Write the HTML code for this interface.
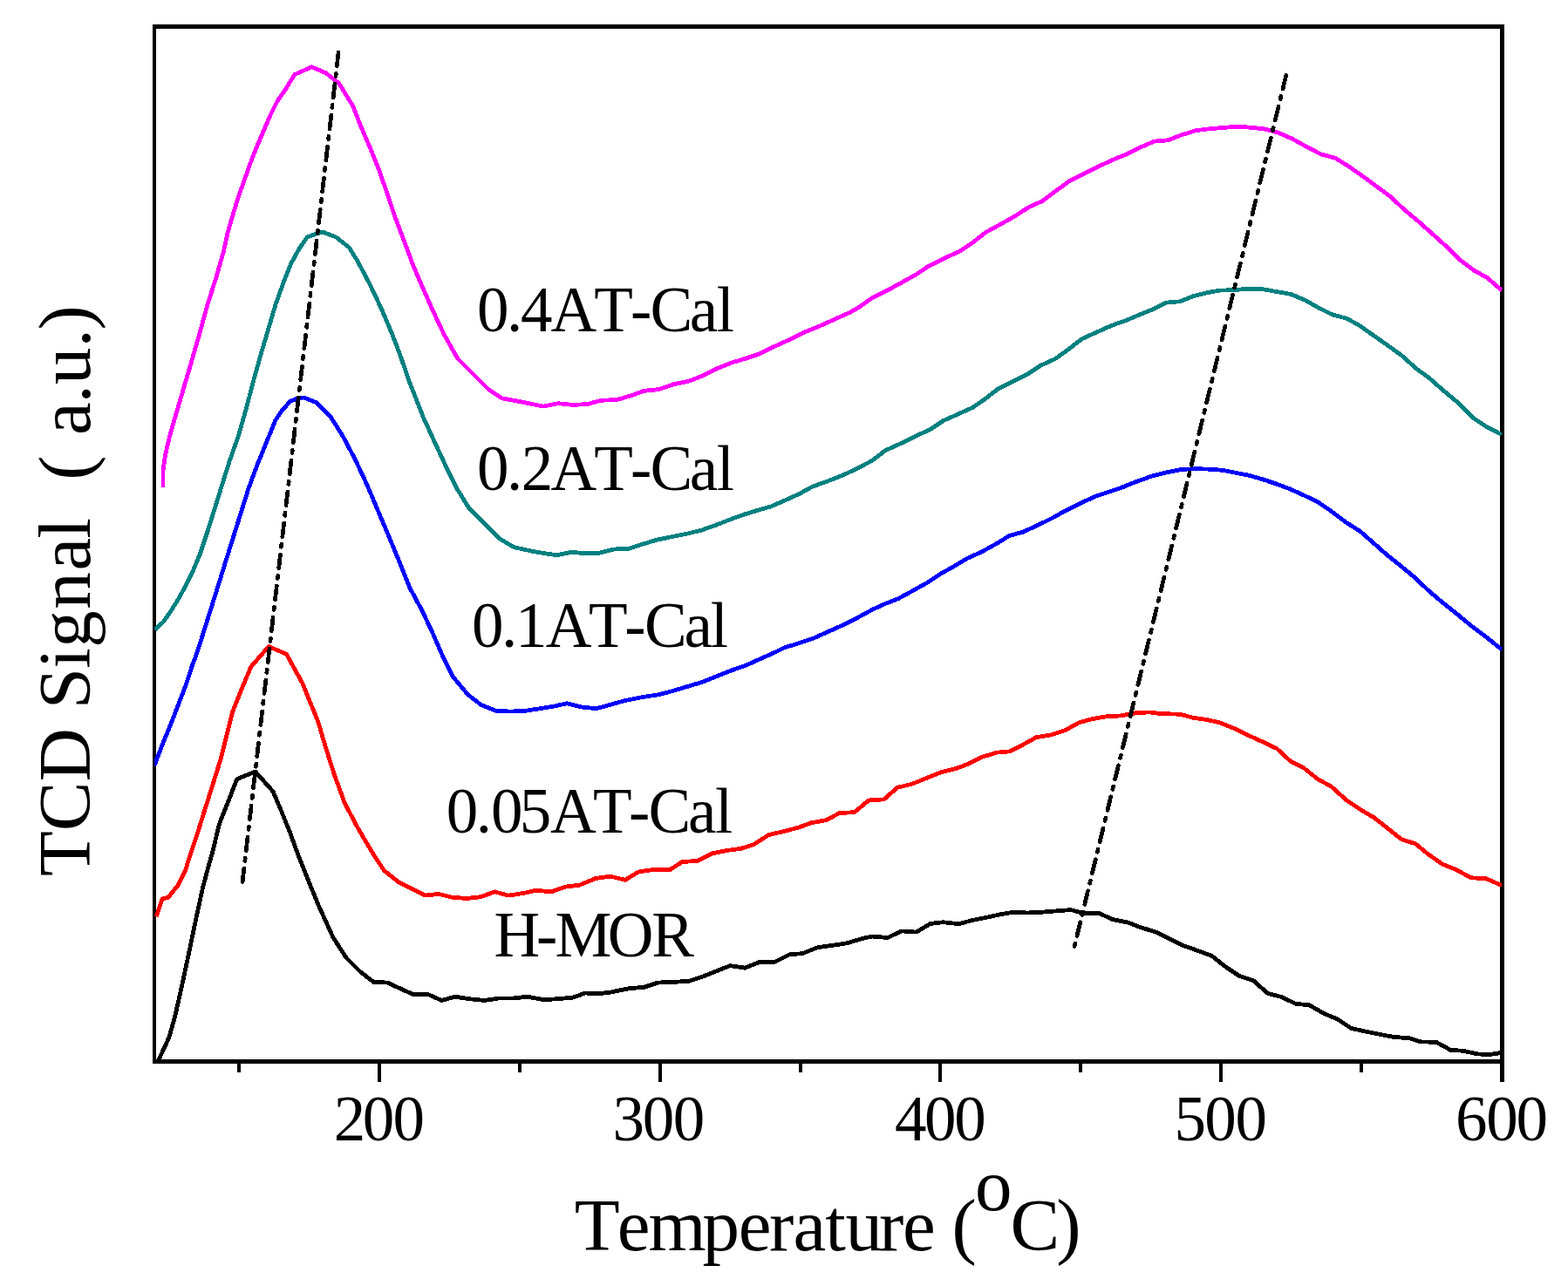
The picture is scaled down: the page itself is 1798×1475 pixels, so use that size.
<!DOCTYPE html>
<html lang="en"><head><meta charset="utf-8"><title>NH3-TPD profiles</title>
<style>html,body{margin:0;padding:0;background:#fff;overflow:hidden}svg{display:block}text{font-family:'Liberation Serif','Noto Serif CJK SC',serif;fill:#000}</style></head><body>
<svg width="1798" height="1475" viewBox="0 0 1798 1475">
<rect x="0" y="0" width="1798" height="1475" fill="#fff"/>
<rect x="175" y="28" width="1550" height="5" fill="#000"/>
<rect x="175" y="1215" width="1550" height="5" fill="#000"/>
<rect x="175" y="28" width="4" height="1192" fill="#000"/>
<rect x="1720" y="28" width="5" height="1213" fill="#000"/>
<defs><clipPath id="c"><rect x="177" y="30.5" width="1545.5" height="1187"/></clipPath></defs>
<g clip-path="url(#c)" shape-rendering="crispEdges">
<polyline points="181.9,1215.7 193.7,1190.3 200.5,1166.5 208.1,1132.6 215.8,1097.0 224.2,1056.4 232.7,1017.4 239.5,991.9 243.7,977.5 251.4,945.3 261.5,919.8 271.7,893.6 292.9,885.1 313.2,908.0 322.5,930.0 332.7,955.4 340.7,977.5 349.7,1000.4 364.9,1037.7 381.9,1075.0 397.1,1098.7 412.4,1114.0 428.5,1126.5 444.2,1127.0 459.0,1133.9 474.2,1140.7 491.2,1140.7 506.4,1147.5 521.7,1143.2 538.6,1145.8 555.6,1147.5 572.5,1144.9 589.5,1144.9 604.7,1143.2 623.4,1146.6 640.0,1145.7 657.3,1144.1 670.8,1139.0 686.1,1139.8 700.0,1138.1 720.3,1133.9 739.0,1132.2 754.2,1127.1 772.9,1126.3 789.8,1125.4 805.1,1120.3 822.0,1113.6 837.3,1107.6 854.2,1110.2 871.2,1103.4 888.1,1103.4 905.1,1094.9 920.3,1093.6 937.3,1086.8 954.2,1084.3 971.2,1081.8 988.1,1076.7 1000.0,1074.0 1017.8,1075.5 1033.9,1067.9 1050.8,1069.1 1066.9,1059.4 1081.4,1057.7 1099.2,1059.7 1115.3,1055.5 1132.2,1052.1 1147.5,1048.7 1162.7,1046.2 1178.0,1047.0 1194.9,1046.2 1211.9,1044.8 1228.0,1043.6 1242.4,1047.5 1260.2,1047.5 1276.3,1054.7 1293.6,1058.1 1308.8,1064.0 1325.8,1069.1 1341.0,1076.7 1356.3,1084.3 1373.2,1090.3 1389.3,1096.2 1405.4,1108.9 1420.7,1119.1 1437.6,1125.0 1453.7,1139.4 1469.8,1143.6 1485.9,1151.4 1501.5,1152.8 1517.3,1162.1 1533.4,1168.9 1549.5,1179.5 1564.7,1182.8 1581.7,1186.3 1598.6,1189.5 1615.6,1190.7 1629.2,1194.9 1646.9,1195.3 1663.1,1204.2 1678.3,1205.4 1693.6,1208.8 1707.1,1209.7 1722.0,1207.4" fill="none" stroke="#000" stroke-width="4.8" stroke-linejoin="round" stroke-linecap="butt"/>
<polyline points="179.3,1051.3 186.1,1030.9 192.9,1029.2 203.9,1015.7 212.4,998.7 218.3,980.0 227.6,952.0 236.1,924.9 244.6,897.8 253.1,870.7 259.8,843.6 266.6,816.4 276.8,791.0 287.8,764.7 308.1,741.5 328.5,750.3 347.1,784.2 364.9,828.3 373.4,857.1 383.6,889.3 395.4,921.5 410.7,950.3 420.0,966.1 430.2,983.1 440.3,998.3 457.3,1011.9 472.5,1019.5 487.8,1027.1 503.1,1025.4 518.3,1029.2 535.3,1030.5 550.5,1028.8 567.5,1022.9 582.7,1027.1 599.7,1024.6 614.9,1021.2 631.9,1022.9 648.8,1017.0 664.1,1015.3 682.7,1007.6 699.7,1005.1 716.9,1009.3 732.2,1000.0 749.2,997.5 767.8,997.8 782.2,988.6 800.0,987.3 816.9,978.8 833.9,975.4 849.2,973.4 864.4,968.6 881.4,957.6 898.3,953.7 915.3,949.2 930.5,943.7 947.5,940.7 962.7,932.5 979.7,931.7 996.0,918.0 1013.6,916.9 1028.8,903.4 1045.8,899.2 1062.7,892.4 1079.7,885.6 1096.6,881.4 1110.2,876.3 1125.4,868.6 1142.4,863.2 1157.6,861.9 1172.9,854.2 1188.1,845.8 1205.1,842.9 1222.0,837.3 1237.3,828.8 1252.5,824.6 1269.5,821.7 1284.7,821.0 1302.0,817.8 1318.1,816.9 1330.8,818.6 1352.9,819.2 1368.1,823.2 1383.4,825.4 1398.6,828.8 1415.6,835.6 1430.8,843.2 1447.8,850.8 1463.9,858.5 1480.0,873.2 1495.3,881.0 1510.5,893.2 1527.0,902.5 1543.5,917.4 1559.7,928.4 1574.9,937.3 1590.2,949.2 1607.1,962.7 1623.2,967.8 1637.6,979.7 1654.6,991.5 1669.8,997.5 1686.8,1006.8 1703.7,1007.6 1722.0,1015.5" fill="none" stroke="#f00" stroke-width="4.8" stroke-linejoin="round" stroke-linecap="butt"/>
<polyline points="177.0,878.0 187.0,852.0 195.4,831.7 203.9,809.7 212.4,787.6 220.8,762.2 225.5,750.0 234.4,722.0 242.9,694.9 251.4,667.8 259.8,640.7 268.3,613.6 276.8,586.4 285.3,559.3 295.4,532.2 308.5,500.0 315.8,482.2 322.5,472.0 332.7,460.2 339.5,457.6 348.0,455.9 363.2,461.9 378.5,477.1 393.0,500.0 407.3,527.1 420.8,555.9 434.4,588.1 448.0,620.3 460.0,649.4 470.2,674.8 483.9,700.2 495.8,725.4 507.6,752.5 519.5,776.3 536.4,796.6 551.7,808.5 568.6,815.3 585.6,816.1 602.5,815.3 619.5,812.7 634.7,810.2 650.0,806.8 666.9,811.0 683.9,812.7 699.2,808.5 716.1,803.7 736.9,799.5 753.9,797.0 770.8,792.7 787.8,787.6 804.7,782.5 821.7,775.8 838.6,769.0 855.6,763.1 872.5,755.4 889.5,747.8 899.7,742.7 916.6,737.6 933.6,731.7 948.8,724.9 965.8,717.3 982.7,708.8 999.7,699.5 1015.3,692.4 1030.5,686.4 1045.8,678.0 1062.7,668.6 1078.0,658.5 1093.2,650.0 1108.5,640.7 1125.4,633.1 1142.4,623.7 1157.6,614.4 1172.9,610.2 1189.8,602.5 1206.8,594.1 1222.0,585.6 1239.0,577.1 1255.9,569.5 1272.9,563.6 1288.1,558.5 1300.3,553.5 1320.7,546.1 1337.6,541.9 1354.6,538.5 1369.8,537.6 1385.1,538.1 1402.0,539.3 1417.3,542.4 1432.5,545.3 1449.5,550.3 1464.7,555.4 1480.0,561.2 1495.3,568.2 1510.5,575.3 1527.5,587.0 1544.4,599.7 1559.7,609.4 1574.9,622.7 1590.2,636.3 1607.1,649.8 1622.4,662.5 1639.3,678.6 1654.6,691.4 1671.5,704.9 1686.8,717.6 1703.7,730.3 1722.0,745.0" fill="none" stroke="#00f" stroke-width="4.8" stroke-linejoin="round" stroke-linecap="butt"/>
<polyline points="177.6,722.0 187.0,713.6 195.4,701.7 203.9,688.1 212.4,672.9 220.8,655.9 229.3,635.6 237.8,610.2 246.3,583.0 254.7,555.9 263.2,528.8 273.4,500.0 281.9,470.3 290.3,438.1 298.8,407.6 307.3,378.8 315.8,350.0 324.2,326.3 333.6,302.5 342.9,285.6 352.2,272.0 361.5,268.6 370.0,266.1 385.3,272.0 400.5,283.9 410.7,300.8 424.2,326.3 437.8,355.1 450.0,384.0 460.0,410.5 468.5,435.5 485.5,479.0 499.2,508.8 511.0,534.2 524.6,561.4 538.1,583.4 555.1,600.3 572.0,617.3 589.0,627.5 611.0,632.5 638.1,636.8 655.1,633.4 670.3,634.6 687.3,634.2 704.2,630.0 721.2,629.2 736.9,624.1 753.9,619.0 770.8,615.6 787.8,612.2 804.7,608.0 821.7,602.0 838.6,595.3 855.6,589.3 872.5,584.2 884.4,580.8 899.7,574.1 916.6,566.4 931.9,558.0 948.8,552.0 965.8,545.3 982.7,537.6 1000.0,528.3 1015.3,516.6 1032.2,509.0 1049.2,500.5 1066.1,492.9 1081.4,482.7 1098.3,475.1 1115.3,467.5 1128.8,458.1 1144.1,446.3 1161.0,437.8 1178.0,429.3 1193.2,419.2 1210.2,411.5 1225.4,400.5 1240.7,388.6 1257.6,381.0 1274.6,373.4 1293.6,366.6 1307.1,360.7 1322.4,354.7 1337.6,347.1 1352.9,345.8 1368.1,339.8 1383.4,335.8 1398.6,333.1 1413.9,332.7 1429.2,331.4 1446.1,331.4 1463.1,334.4 1480.0,337.4 1496.9,344.4 1512.2,353.2 1528.4,361.1 1544.4,365.3 1559.7,373.9 1574.9,384.7 1591.9,396.6 1607.1,407.6 1624.1,422.9 1639.3,433.9 1654.6,447.5 1669.8,460.2 1688.5,478.8 1703.7,489.0 1722.0,498.5" fill="none" stroke="#008080" stroke-width="4.8" stroke-linejoin="round" stroke-linecap="butt"/>
<polyline points="186.9,558.5 186.9,540.0 189.5,522.0 194.6,500.0 202.2,473.7 210.7,444.9 219.2,416.1 228.5,383.9 237.8,350.0 248.0,317.8 256.5,288.0 261.2,266.3 268.0,243.2 273.4,225.6 280.2,206.6 286.9,187.6 293.7,170.0 301.9,151.0 310.0,132.0 318.1,115.8 327.6,102.2 337.8,85.5 357.3,76.8 373.4,83.6 388.6,95.4 404.7,121.7 414.0,145.4 424.2,169.2 434.4,194.6 444.6,223.4 453.4,250.0 463.6,277.1 473.7,304.2 483.9,328.0 495.8,355.1 509.3,383.9 524.6,411.0 543.2,429.7 560.2,446.6 575.4,456.8 594.0,460.2 622.9,466.1 639.8,462.7 656.8,464.4 673.7,463.6 689.0,459.3 707.6,458.5 724.6,453.4 738.6,448.3 755.6,446.6 772.5,440.7 789.5,437.3 804.7,431.4 821.7,422.9 838.6,416.1 855.6,411.0 870.8,405.9 887.8,397.5 904.7,389.8 921.7,381.4 938.6,374.6 957.3,366.1 974.2,358.5 986.1,351.7 1000.0,341.7 1016.9,333.4 1033.9,324.1 1050.8,314.7 1064.4,305.4 1081.4,296.9 1100.0,288.5 1115.3,278.3 1130.5,266.4 1147.5,257.1 1162.7,248.6 1179.7,237.6 1194.9,230.8 1211.9,218.1 1227.1,207.1 1244.1,198.6 1261.0,190.2 1278.0,182.5 1293.6,176.1 1307.1,169.3 1323.2,162.2 1339.3,160.8 1354.6,154.9 1370.7,149.8 1386.8,147.8 1403.7,146.4 1419.0,145.1 1432.5,146.1 1449.5,147.8 1466.4,152.4 1481.7,159.2 1498.6,168.5 1514.7,176.9 1530.8,181.2 1546.1,190.5 1563.1,202.5 1578.3,213.6 1595.3,226.3 1610.5,240.7 1625.8,253.4 1641.0,266.9 1658.0,282.2 1673.2,297.5 1690.2,310.2 1705.4,318.6 1722.0,333.0" fill="none" stroke="#f0f" stroke-width="4.8" stroke-linejoin="round" stroke-linecap="butt"/>
</g>
<g shape-rendering="crispEdges">
<line x1="388.1" y1="60.2" x2="278.0" y2="1011.9" stroke="#000" stroke-width="4.7" stroke-linecap="round" stroke-dasharray="15.7 8.66 3.2 8.67"/>
<line x1="1474.8" y1="86.25" x2="1232.0" y2="1085.65" stroke="#000" stroke-width="4.7" stroke-linecap="round" stroke-dasharray="16.15 8.75 3.37 8.76"/>
</g>
<rect x="433" y="1215" width="4" height="26" fill="#000"/>
<rect x="755" y="1215" width="4" height="26" fill="#000"/>
<rect x="1076" y="1215" width="4" height="26" fill="#000"/>
<rect x="1398" y="1215" width="4" height="26" fill="#000"/>
<rect x="272" y="1215" width="4" height="15" fill="#000"/>
<rect x="594" y="1215" width="4" height="15" fill="#000"/>
<rect x="916" y="1215" width="4" height="15" fill="#000"/>
<rect x="1237" y="1215" width="4" height="15" fill="#000"/>
<rect x="1559" y="1215" width="4" height="15" fill="#000"/>
<text x="382.7 415.7 450.5" y="1307.6" font-size="73">200</text>
<text x="702.5 736.8 771.7" y="1307.6" font-size="73">300</text>
<text x="1025.9 1059.9 1094.3" y="1307.6" font-size="73">400</text>
<text x="1346.6 1381.3 1416.4" y="1307.6" font-size="73">500</text>
<text x="1669.0 1704.2 1738.5" y="1307.6" font-size="73">600</text>
<text x="547.0 581.0 597.1 631.4 681.2 722.9 745.5 790.8 821.7" y="380.3" font-size="73">0.4AT-Cal</text>
<text x="547.0 581.0 597.7 631.4 681.2 722.9 745.5 790.8 821.7" y="562.1" font-size="73">0.2AT-Cal</text>
<text x="541.1 575.0 591.0 625.8 675.1 716.2 739.1 784.5 814.8" y="742.1" font-size="73">0.1AT-Cal</text>
<text x="511.8 545.7 563.0 595.7 630.9 680.1 720.9 743.5 789.1 819.9" y="954.7" font-size="73">0.05AT-Cal</text>
<text x="566.5 615.1 636.5 696.8 747.2" y="1096.6" font-size="73">H-MOR</text>
<text x="658.8 707.7 743.5 805.5 846.7 881.9 909.6 946.2 969.4 1007.9 1034.9 1072.7 1091.4 1118.1 1158.6 1211.2" y="1434.3 1434.3 1434.3 1434.3 1434.3 1434.3 1434.3 1434.3 1434.3 1434.3 1434.3 1434.3 1434.3 1388.0 1434.3 1434.3" font-size="85">Temperature (oC)</text>
<text x="-3.6 48.1 105.0 166.4 188.2 234.6 258.6 302.6 346.8 383.6 407.2 407.2 450.7 479.0 502.3 538.9 560.4 602.8 622.8" y="0" font-size="85" transform="translate(102.8,1001.4) rotate(-90)" xml:space="preserve">TCD Signal  ( a.u.)</text>
</svg></body></html>
